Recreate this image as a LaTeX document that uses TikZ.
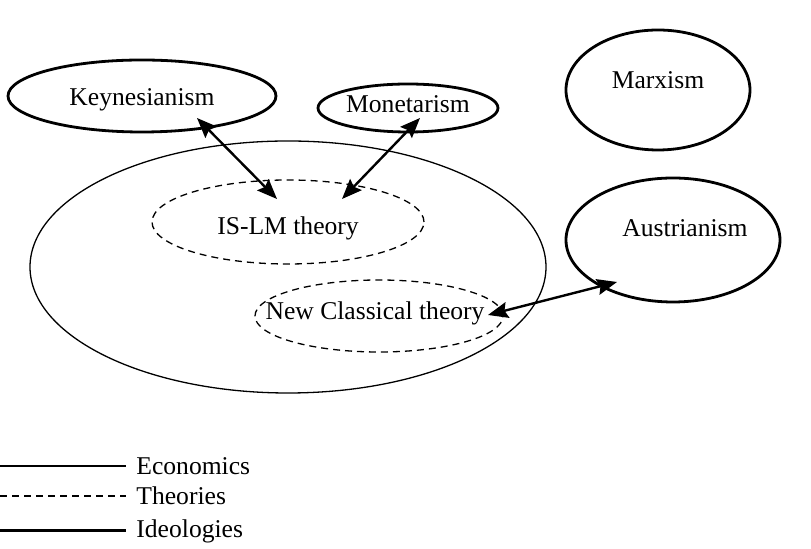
\documentclass[tikz,border=0pt]{standalone}
\usepackage{fontspec}
\setmainfont{Liberation Serif}
\usetikzlibrary{shapes.geometric,arrows.meta}
\begin{document}
\begin{tikzpicture}[x=0.5pt,y=-0.5pt,
  every node/.style={font=\fontsize{12.8}{15}\selectfont},
  field/.style={ellipse,draw,line width=0.65pt,inner sep=0pt},
  theory/.style={ellipse,draw,line width=0.65pt,dash pattern=on 3.5pt off 2.5pt,inner sep=0pt},
  ideology/.style={ellipse,draw,line width=1.4pt,inner sep=0pt},
  txt/.style={inner sep=0pt,anchor=center},
  link/.style={line width=1.2pt,{Stealth[length=10pt,width=8pt,inset=1.5pt]}-{Stealth[length=10pt,width=8pt,inset=1.5pt]}},
  key/.style={anchor=west,inner sep=0pt}]
\useasboundingbox (0,0) rectangle (811,549);

% economics as a whole
\node[field,minimum width=258pt,minimum height=126pt] (eco) at (288,267) {};

% theories
\node[theory,minimum width=136pt,minimum height=42pt] (islm) at (288,222) {};
\node[txt] (islmt) at (288,228) {IS-LM theory};
\node[theory,minimum width=124pt,minimum height=36pt] (nc) at (379,316) {};
\node[txt] (nct) at (375,313) {New Classical theory};

% ideologies
\node[ideology,minimum width=134pt,minimum height=36pt] (key) at (142,96) {};
\node[txt] (keyt) at (142,100) {Keynesianism};
\node[ideology,minimum width=90pt,minimum height=24pt] (mon) at (408,108) {};
\node[txt] (mont) at (408,104) {Monetarism};
\node[ideology,minimum width=92pt,minimum height=60pt] (marx) at (658,90) {};
\node[txt] (marxt) at (658,80) {Marxism};
\node[ideology,minimum width=107pt,minimum height=62pt] (aus) at (673,240) {};
\node[txt] (aust) at (685,228) {Austrianism};

% arrow end points
\coordinate (k1) at (197,118);
\coordinate (k2) at (277,199);
\coordinate (m1) at (420,118);
\coordinate (m2) at (342,199);
\coordinate (a1) at (617,282);
\coordinate (a2) at (488,315);

\draw[link] (k1) -- (k2);
\draw[link] (m1) -- (m2);
\draw[link] (a1) -- (a2);

% legend
\coordinate (l1a) at (0,466);  \coordinate (l1b) at (126,466);
\coordinate (l2a) at (0,496);  \coordinate (l2b) at (126,496);
\coordinate (l3a) at (0,531);  \coordinate (l3b) at (126,531);
\draw[line width=0.65pt] (l1a) -- (l1b);
\draw[line width=0.65pt,dash pattern=on 3.5pt off 2.5pt] (l2a) -- (l2b);
\draw[line width=1.5pt] (l3a) -- (l3b);
\node[key] (leco) at (136,466) {Economics};
\node[key] (lthe) at (136,496) {Theories};
\node[key] (lide) at (136,531) {Ideologies};
\end{tikzpicture}
\end{document}
